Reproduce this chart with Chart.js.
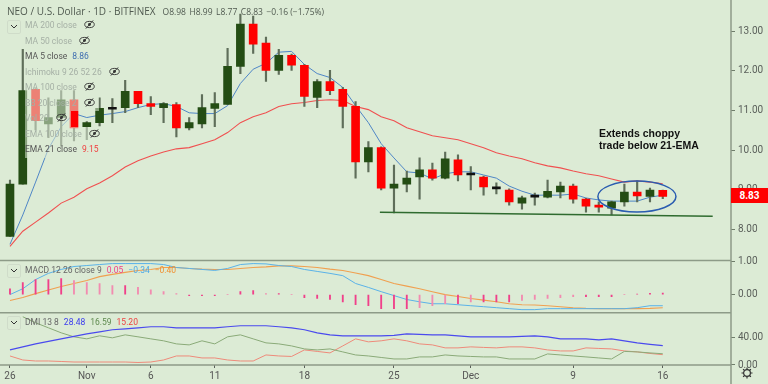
<!DOCTYPE html>
<html>
<head>
<meta charset="utf-8">
<script src="https://cdn.jsdelivr.net/npm/chart.js@4"></script>
<style>
  html, body { margin: 0; padding: 0; background: #dcebd5; }
  #wrap { position: relative; width: 768px; height: 384px; overflow: hidden; font-family: Roboto, sans-serif; color: #555; }
  canvas { position: absolute; left: 0; top: 0; }
  .head { position: absolute; left: 7px; top: 4px; font-family: "Open Sans", sans-serif; font-size: 10px; line-height: 14px; white-space: nowrap; color: #505a50; }
  .head span { margin-left: 3.5px; font-size: 8.5px; }
  .head span:first-child { margin-left: 7px; }
  .rows { position: absolute; left: 25px; top: 18px; }
  .row { height: 15.5px; line-height: 15.5px; font-size: 8.5px; white-space: nowrap; color: #a5b0a5; }
  .row > div { display: inline-block; background: rgba(220,235,213,.55); padding-right: 4px; height: 15.5px; vertical-align: top; }
  .row.on { color: #555; }
  .row b { font-weight: 400; margin-left: 5px; }
  .eye { width: 11px; height: 11px; vertical-align: -2px; margin-left: 7px; }
  .pane { position: absolute; left: 25px; font-size: 8.5px; line-height: 12px; white-space: nowrap; color: #666; }
  .pane b { font-weight: 400; margin-left: 5px; }
  .btn { position: absolute; left: 7px; width: 12px; height: 12px; border: 1px solid #cfdcc9; border-radius: 2px; }
  .btn svg { position: absolute; left: 2px; top: 3px; }
  .tag { position: absolute; left: 731px; top: 188px; width: 37px; height: 15px; line-height: 15px; background: #ff0000; color: #fff; font-size: 10px; font-weight: 700; text-align: center; }
  .note { position: absolute; left: 599px; top: 127px; font-family: "Liberation Sans", sans-serif; font-size: 10.5px; font-weight: 700; line-height: 12px; color: #111; white-space: nowrap; }
  .gear { position: absolute; left: 741px; top: 367px; }
</style>
</head>
<body>
<div id="wrap">
  <canvas id="chart" width="768" height="384"></canvas>

  <svg width="0" height="0" style="position:absolute">
    <symbol id="eye" viewBox="0 0 12 12">
      <ellipse cx="6" cy="6" rx="5.2" ry="3.4" fill="none" stroke="#333" stroke-width="1"/>
      <circle cx="6" cy="6" r="1.6" fill="#333"/>
      <path d="M2 10.5 L10 1.5" stroke="#333" stroke-width="1"/>
    </symbol>
  </svg>

  <div class="head">NEO / U.S. Dollar · 1D · BITFINEX<span>O8.98</span><span>H8.99</span><span>L8.77</span><span>C8.83</span><span>−0.16 (−1.75%)</span></div>

  <div class="btn" style="top:20px"><svg width="8" height="6"><path d="M1 1 L4 4 L7 1" fill="none" stroke="#333"/></svg></div>
  <div class="rows">
    <div class="row"><div>MA 200 close<svg class="eye"><use href="#eye"/></svg></div></div>
    <div class="row"><div>MA 50 close<svg class="eye"><use href="#eye"/></svg></div></div>
    <div class="row on"><div>MA 5 close<b style="color:#3f6fb0">8.86</b></div></div>
    <div class="row"><div>Ichimoku 9 26 52 26<svg class="eye"><use href="#eye"/></svg></div></div>
    <div class="row"><div>MA 100 close<svg class="eye"><use href="#eye"/></svg></div></div>
    <div class="row"><div>BB 20 close 2<svg class="eye"><use href="#eye"/></svg></div></div>
    <div class="row"><div>Vol 20<svg class="eye"><use href="#eye"/></svg></div></div>
    <div class="row"><div>EMA 100 close<svg class="eye"><use href="#eye"/></svg></div></div>
    <div class="row on"><div>EMA 21 close<b style="color:#f04040">9.15</b></div></div>
  </div>

  <div class="btn" style="top:264px"><svg width="8" height="6"><path d="M1 1 L4 4 L7 1" fill="none" stroke="#333"/></svg></div>
  <div class="pane" style="top:264px">MACD 12 26 close 9<b style="color:#f0408a">0.05</b><b style="color:#4aa8e8">−0.34</b><b style="color:#f09030">−0.40</b></div>
  <div class="btn" style="top:316px"><svg width="8" height="6"><path d="M1 1 L4 4 L7 1" fill="none" stroke="#333"/></svg></div>
  <div class="pane" style="top:316px">DMI 13 8<b style="color:#3a3aee">28.48</b><b style="color:#5f8a4f">16.59</b><b style="color:#ee4040">15.20</b></div>

  <div class="note">Extends choppy<br>trade below 21-EMA</div>
  <div class="tag">8.83</div>
  <svg class="gear" width="12" height="12" viewBox="0 0 12 12"><circle cx="6" cy="6" r="3.4" fill="none" stroke="#333" stroke-width="1.2"/><path d="M6 0.5V2.5M6 9.5V11.5M0.5 6H2.5M9.5 6H11.5M2.1 2.1L3.5 3.5M8.5 8.5L9.9 9.9M2.1 9.9L3.5 8.5M8.5 3.5L9.9 2.1" stroke="#333" stroke-width="1.2"/></svg>
</div>

<script>
// Oct 26 .. Dec 16, one candle per day
const opens  = [7.82,9.14,11.53,10.66,10.82,11.27,10.59,10.69,11.03,11.07,11.48,11.17,11.07,11.15,10.56,10.66,11.05,11.15,12.11,13.18,12.70,12.01,12.39,12.14,11.33,11.73,11.53,11.10,9.70,10.06,9.04,9.14,9.32,9.50,9.29,9.75,9.37,9.32,9.02,8.99,8.66,8.81,8.81,8.94,9.09,8.76,8.58,8.53,8.69,8.94,8.83,8.98];
const highs  = [9.24,12.54,11.55,11.32,11.50,11.50,10.72,11.32,11.30,11.76,11.48,11.35,11.20,11.20,10.82,11.40,11.45,12.57,13.43,13.38,12.85,12.54,12.42,12.16,11.78,12.01,11.58,11.22,10.21,10.08,9.62,9.47,9.80,9.67,9.95,9.88,9.58,9.34,9.17,9.02,8.84,8.91,9.24,9.19,9.14,8.78,8.69,8.71,9.14,9.22,9.04,8.99];
const lows   = [7.82,9.14,10.51,10.31,10.10,10.23,10.26,10.61,10.69,10.94,11.07,10.89,10.69,10.33,10.51,10.56,10.59,11.15,11.93,12.44,11.73,11.91,12.01,11.10,11.07,11.40,10.56,9.29,9.45,8.99,8.41,8.94,8.76,9.24,9.27,9.22,8.99,8.86,8.89,8.61,8.51,8.61,8.79,8.79,8.66,8.43,8.43,8.36,8.58,8.69,8.69,8.77];
const closes = [9.14,11.50,10.74,10.82,11.27,10.56,10.69,11.05,11.03,11.48,11.17,11.10,11.17,10.56,10.69,11.07,11.17,12.11,13.18,12.67,12.01,12.39,12.14,11.35,11.73,11.50,11.10,9.70,10.06,9.04,9.14,9.29,9.50,9.29,9.78,9.37,9.37,9.07,9.02,8.69,8.79,8.81,8.96,9.09,8.76,8.58,8.56,8.69,8.94,8.84,8.99,8.83];

const ma5   = [7.62,8.36,9.19,10.03,10.59,10.92,10.82,10.88,10.92,10.97,11.07,11.15,11.17,11.10,10.94,10.92,10.92,11.12,11.68,12.04,12.19,12.47,12.49,12.16,11.93,11.83,11.58,11.12,10.69,10.16,9.80,9.45,9.42,9.27,9.40,9.45,9.45,9.37,9.29,9.09,8.96,8.86,8.86,8.86,8.89,8.79,8.74,8.71,8.71,8.71,8.81,8.86];
const ema21 = [7.57,7.95,8.18,8.41,8.66,8.81,9.02,9.17,9.35,9.57,9.73,9.85,9.95,10.03,10.06,10.16,10.26,10.44,10.69,10.84,10.94,11.10,11.17,11.20,11.25,11.27,11.25,11.10,11.02,10.84,10.74,10.56,10.46,10.36,10.31,10.26,10.16,10.06,9.93,9.85,9.78,9.68,9.60,9.55,9.47,9.40,9.35,9.27,9.19,9.22,9.19,9.15];

const macdLine   = [0,.18,.46,.65,.77,.86,.89,.92,.95,.95,.95,.95,.92,.83,.80,.77,.74,.80,.92,.95,.94,.89,.86,.77,.71,.65,.58,.34,.22,.09,-.03,-.15,-.22,-.28,-.28,-.31,-.34,-.37,-.40,-.43,-.46,-.46,-.43,-.43,-.43,-.43,-.43,-.43,-.43,-.40,-.34,-.34];
const signalLine = [-.18,-.09,.03,.14,.25,.34,.43,.55,.62,.68,.74,.77,.83,.83,.80,.78,.77,.77,.80,.83,.85,.88,.88,.86,.83,.78,.74,.66,.58,.46,.34,.26,.18,.09,0,-.06,-.12,-.17,-.22,-.28,-.31,-.32,-.34,-.37,-.40,-.42,-.43,-.43,-.43,-.43,-.42,-.40];
const macdHist   = [.18,.37,.46,.46,.49,.43,.37,.34,.28,.28,.22,.15,.09,.03,-.03,-.03,-.03,0,.09,.12,.03,.03,0,-.09,-.12,-.15,-.22,-.31,-.34,-.43,-.43,-.43,-.40,-.34,-.28,-.28,-.22,-.22,-.22,-.22,-.18,-.15,-.12,-.09,-.06,-.06,-.06,-.06,0,.02,.04,.05];

const dmiBlue  = [22.2,26.7,31.1,34.8,38.5,42.2,45.9,48.9,51.9,53.3,54.8,56.3,56.3,54.8,54.8,54.8,54.8,56.3,57.8,57.8,57.8,56.3,54.8,51.9,47.4,44.4,43,43,43,43,43.7,45.9,45.2,44.4,44.4,43,41.5,41.5,41.5,41.5,42.2,43,41.5,38.5,38.5,38.5,37,38.5,35.6,32.6,30.4,28.48];
const dmiGreen = [null,71.1,62.2,54.8,47.4,41.5,38.5,43,40,44.4,41.5,38.5,35.6,31.1,29.6,35.6,31.1,41.5,44.4,38.5,32.6,31.1,28.1,23.7,22.2,23.7,19.3,14.8,13.3,11.1,8.9,8.9,11.9,11.9,14.8,13.3,12.6,11.9,11.9,8.9,8.9,8.9,16.3,14.8,13.3,11.9,10.4,8.9,20,19.3,17.8,16.59];
const dmiRed   = [13.3,7.4,5.9,5.9,5.2,4.4,4.4,4.4,4.4,4.4,3.7,4.4,7.4,13.3,13.3,10.4,10.4,7.4,5.9,5.9,14.8,13.3,12.6,22.2,20,17.8,28.1,38.5,34.1,35.6,38.5,35.6,31.1,29.6,25.2,25.2,26.7,25.9,25.2,26.7,26.7,25.2,22.2,20.7,20.7,25.2,24.4,23.7,20.7,19.3,17,15.2];

const timeTickIndex = [0,6,11,16,23,30,36,44,51];
const timeTickLabel = ['26','Nov','6','11','18','25','Dec','9','16'];
const mainTicks = [8,9,10,11,12,13];
const macdTicks = [0,1];
const dmiTicks  = [0,40];

// support line under the lows and the ring round the last candles
const supportX = [28.9,54.9];
const supportY = [8.43,8.33];
const ringCentre = [48.98,8.825];
const ringRadius = [3.05,0.39];

const days = closes.map((c, i) => i);
const pair = (ys) => ys.map((y, i) => ({ x: i, y: y }));
const GREEN = '#244d14', RED = '#ff0000';
const bodyColor = (i) => closes[i] > opens[i] ? GREEN : closes[i] < opens[i] ? RED : '#111';

function lineSet(data, color, axis, width) {
  return { type: 'line', data: pair(data), yAxisID: axis, borderColor: color, borderWidth: width || 1,
           pointRadius: 0, tension: 0, order: 5 };
}

const paneLines = {
  id: 'paneLines',
  afterDatasetsDraw(chart) {
    const { ctx, chartArea, scales } = chart;
    ctx.save();
    // ring
    ctx.strokeStyle = '#2a5cb0';
    ctx.lineWidth = 1.5;
    ctx.beginPath();
    const cx = scales.x.getPixelForValue(ringCentre[0]);
    const cy = scales.y.getPixelForValue(ringCentre[1]);
    const rx = scales.x.getPixelForValue(ringCentre[0] + ringRadius[0]) - cx;
    const ry = cy - scales.y.getPixelForValue(ringCentre[1] + ringRadius[1]);
    ctx.ellipse(cx, cy, rx, ry, 0, 0, Math.PI * 2);
    ctx.stroke();
    // separators
    ctx.strokeStyle = '#8d9b88';
    ctx.lineWidth = 1.5;
    ctx.beginPath();
    [scales.y.bottom, scales.macd.bottom, scales.dmi.bottom].forEach((yy) => {
      ctx.moveTo(0, yy);
      ctx.lineTo(chartArea.right, yy);
    });
    ctx.moveTo(chartArea.right, 0);
    ctx.lineTo(chartArea.right, 384);
    ctx.stroke();
    ctx.restore();
  }
};

function rightAxis(ticks, min, max, weight) {
  return {
    type: 'linear', position: 'right', stack: 'panes', stackWeight: weight, min: min, max: max,
    afterBuildTicks: (s) => { s.ticks = ticks.map((v) => ({ value: v })); },
    afterFit: (s) => { s.width = 37; s.paddingTop = 0; s.paddingBottom = 0; },
    grid: { drawOnChartArea: false, tickLength: 4, color: '#6f7d6a' },
    border: { display: false },
    ticks: { color: '#5a5f5a', font: { size: 10, family: 'Roboto' }, padding: 3, autoSkip: false,
             callback: (v) => v.toFixed(2) }
  };
}

new Chart(document.getElementById('chart'), {
  data: {
    datasets: [
      // indicators sit under the candles
      lineSet(ma5, '#4f86c6', 'y'),
      lineSet(ema21, '#f05050', 'y', 1.1),
      { type: 'bar', yAxisID: 'y', grouped: false, order: 3, barThickness: 1.5,
        data: days.map((i) => ({ x: i, y: [lows[i], highs[i]] })), backgroundColor: '#5f6e5a' },
      { type: 'bar', yAxisID: 'y', grouped: false, order: 2, barThickness: 8, minBarLength: 2,
        data: days.map((i) => ({ x: i, y: [opens[i], closes[i]] })),
        backgroundColor: days.map(bodyColor) },
      { type: 'line', yAxisID: 'y', order: 1, borderColor: '#2f6b2f', borderWidth: 1.5, pointRadius: 0,
        data: supportX.map((x, i) => ({ x: x, y: supportY[i] })) },

      { type: 'bar', yAxisID: 'macd', grouped: false, order: 4, barThickness: 1.2, data: pair(macdHist),
        backgroundColor: days.map((i) => Math.abs(macdHist[i]) >= Math.abs(macdHist[i - 1] || 0) ? '#f0408a' : '#f28bb0') },
      lineSet(macdLine, '#5ab2e8', 'macd'),
      lineSet(signalLine, '#f0a050', 'macd', 1.1),

      lineSet(dmiBlue, '#4a4aee', 'dmi', 1.2),
      lineSet(dmiGreen, '#8aaa78', 'dmi'),
      lineSet(dmiRed, '#ee8a7a', 'dmi')
    ]
  },
  options: {
    responsive: false,
    animation: false,
    events: [],
    layout: { padding: 0 },
    plugins: { legend: { display: false }, tooltip: { enabled: false } },
    scales: {
      x: {
        type: 'linear', min: -0.78, max: 56.33, offset: false,
        afterBuildTicks: (s) => { s.ticks = timeTickIndex.map((v) => ({ value: v })); },
        afterFit: (s) => { s.height = 19; s.paddingLeft = 0; s.paddingRight = 0; },
        grid: { drawOnChartArea: false, offset: false, tickLength: 3, color: '#5a5f5a' },
        border: { display: false },
        ticks: { color: '#555', font: { size: 10, family: 'Roboto' }, padding: 2, maxRotation: 0, autoSkip: false,
                 callback: (v) => timeTickLabel[timeTickIndex.indexOf(v)] }
      },
      y: rightAxis(mainTicks, 7.213, 13.787, 259),
      macd: rightAxis(macdTicks, -0.554, 1.046, 52),
      dmi: rightAxis(dmiTicks, 0, 77, 52)
    }
  },
  plugins: [paneLines]
});
</script>
</body>
</html>
